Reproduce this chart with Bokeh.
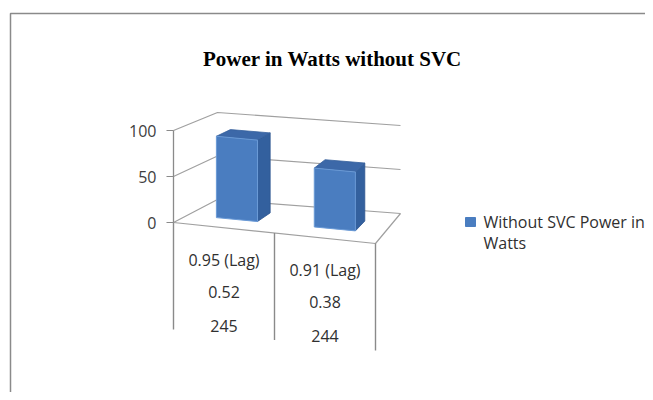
from bokeh.plotting import figure
from bokeh.models import Range1d
from bokeh.embed import file_html
from bokeh.resources import INLINE
from bokeh.core.properties import value

# ---------------- data ----------------
title_text = "Power in Watts without SVC"
categories = ["0.95 (Lag) / 0.52 / 245", "0.91 (Lag) / 0.38 / 244"]
table_rows = [["0.95 (Lag)", "0.52", "245"],
              ["0.91 (Lag)", "0.38", "244"]]
power_values = [90, 65]
tick_values = [0, 50, 100]
tick_labels = ["0", "50", "100"]
legend_lines = ["Without SVC Power in", "Watts"]

# ---------------- 3D projection (floor corners in canvas px) ----------------
FL = (173.0, 222.0)   # front-left
FR = (375.0, 243.0)   # front-right
BL = (217.0, 199.0)   # back-left
BR = (400.0, 213.0)   # back-right
S_FL, S_FR, S_BL, S_BR = 0.92, 0.92, 0.87, 0.88   # px per value unit
N = len(categories)


def proj(u, w, v):
    t = u / N
    fx = FL[0] + t * (FR[0] - FL[0]); fy = FL[1] + t * (FR[1] - FL[1])
    bx = BL[0] + t * (BR[0] - BL[0]); by = BL[1] + t * (BR[1] - BL[1])
    x = (1 - w) * fx + w * bx
    y = (1 - w) * fy + w * by
    s = (1 - w) * ((1 - t) * S_FL + t * S_FR) + w * ((1 - t) * S_BL + t * S_BR)
    return x, y - v * s


p = figure(width=645, height=392, output_backend="svg", toolbar_location=None,
           x_range=Range1d(0, 645), y_range=Range1d(392, 0),
           min_border=0, outline_line_color=None)
p.axis.visible = False
p.grid.visible = False
p.background_fill_color = "white"

# outer chart border
p.line([10, 10, 653], [400, 13, 13], line_color="#8a8a8a", line_width=1.5)

# title
p.text(x=[332], y=[58], text=[title_text], text_font=value("Liberation Serif"),
       text_font_style="bold", text_font_size="21px", text_align="center",
       text_baseline="middle", text_color="#000000")

# wall gridlines
gx, gy = [], []
for v in tick_values:
    pts = [proj(0, 0, v), proj(0, 1, v), proj(N, 1, v)]
    gx.append([q[0] for q in pts]); gy.append([q[1] for q in pts])
# floor front + right edges
pts = [proj(0, 0, 0), proj(N, 0, 0), proj(N, 1, 0)]
gx.append([q[0] for q in pts]); gy.append([q[1] for q in pts])
p.multi_line(gx, gy, line_color="#a0a0a0", line_width=1.2)

# value axis line + ticks + labels
x0, y0 = proj(0, 0, 0)
x1, y1 = proj(0, 0, tick_values[-1])
p.line([x0, x1], [y0, y1], line_color="#8a8a8a", line_width=1.3)
tx, ty = [], []
for v in tick_values:
    xv, yv = proj(0, 0, v)
    tx.append([xv - 7, xv]); ty.append([yv, yv])
p.multi_line(tx, ty, line_color="#8a8a8a", line_width=1.2)
p.text(x=[proj(0, 0, v)[0] - 17 for v in tick_values],
       y=[proj(0, 0, v)[1] for v in tick_values], text=tick_labels,
       text_font=value("Open Sans"), text_font_size="16px", text_align="right",
       text_baseline="middle", text_color="#404040")

# category table lines
lx, ly = [], []
for i in range(N + 1):
    xv, yv = proj(i, 0, 0)
    lx.append([xv, xv]); ly.append([yv, yv + 107])
p.multi_line(lx, ly, line_color="#8a8a8a", line_width=1.4)

# category table texts
row_offsets = [32, 64, 98]
cx, cy, ct = [], [], []
for i, rows in enumerate(table_rows):
    xv, yv = proj(i + 0.5, 0, 0)
    for off, s in zip(row_offsets, rows):
        cx.append(xv); cy.append(yv + off); ct.append(s)
p.text(x=cx, y=cy, text=ct, text_font=value("Open Sans"), text_font_size="16px",
       text_align="center", text_baseline="middle", text_color="#303030")

# 3D bars
half = 0.21
w0, w1 = 0.33, 0.67
front_x, front_y, side_x, side_y, top_x, top_y = [], [], [], [], [], []
for i, val in enumerate(power_values):
    u0, u1 = i + 0.5 - half, i + 0.5 + half
    f = [proj(u0, w0, 0), proj(u1, w0, 0), proj(u1, w0, val), proj(u0, w0, val)]
    s = [proj(u1, w0, 0), proj(u1, w1, 0), proj(u1, w1, val), proj(u1, w0, val)]
    t = [proj(u0, w0, val), proj(u1, w0, val), proj(u1, w1, val), proj(u0, w1, val)]
    front_x.append([q[0] for q in f]); front_y.append([q[1] for q in f])
    side_x.append([q[0] for q in s]); side_y.append([q[1] for q in s])
    top_x.append([q[0] for q in t]); top_y.append([q[1] for q in t])
p.patches(side_x, side_y, fill_color="#33609E", line_color="#2d5690", line_width=0.8)
p.patches(top_x, top_y, fill_color="#3C68A8", line_color="#35609c", line_width=0.8)
p.patches(front_x, front_y, fill_color="#4A7DC0", line_color="#6a9ad6", line_width=1)

# legend
p.quad(left=[465], right=[475], top=[217], bottom=[226], fill_color="#4A7DC0",
       line_color="#4A7DC0")
p.text(x=[483, 483], y=[221, 242], text=legend_lines, text_font=value("Open Sans"),
       text_font_size="16px", text_align="left", text_baseline="middle",
       text_color="#303030")

open("out.html", "w").write(file_html(p, INLINE))
